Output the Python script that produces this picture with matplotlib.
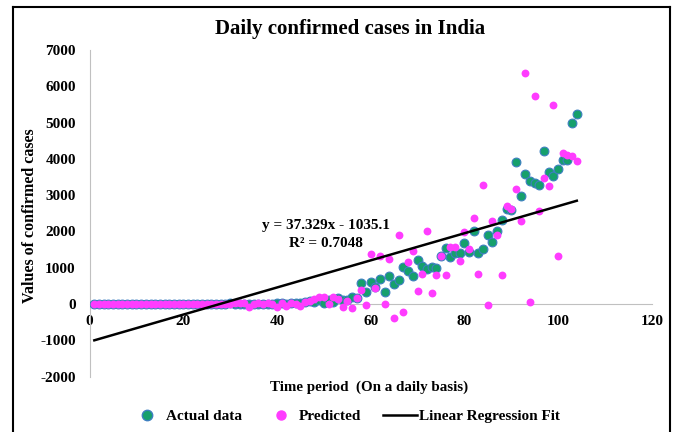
import matplotlib.pyplot as plt
from matplotlib.lines import Line2D
import numpy as np

plt.rcParams['font.family'] = ['Liberation Serif', 'DejaVu Serif']
plt.rcParams['font.weight'] = 'bold'
plt.rcParams['axes.unicode_minus'] = False

days = list(range(1, 105))

# daily confirmed cases
actual = [0] * 27 + [
    2, 1, 22, 2, 1, 3, 5, 9, 15, 8, 10, 14, 19, 26, 14, 28, 27, 22,
    63, 80, 69, 103, 37, 121, 70, 160, 100, 111, 190, 160,
    570, 320, 620, 480, 690, 340, 764, 543, 663, 1031, 921, 783, 1225, 1059,
    967, 1013, 995, 1326, 1547, 1308, 1400, 1418, 1676, 1428, 2008, 1400, 1529,
    1907, 1713, 2026, 2321, 2625, 2579, 3905, 2966, 3574, 3389, 3343, 3288,
    4218, 3629, 3537, 3730, 3960, 3960, 5001, 5250,
]

predicted = [0] * 29 + [
    10, 40, 20, 30, -70, 10, 20, 0, 30, 10, -70, 20, -40, 30, 10, -50,
    60, 90, 150, 200, 200, 10, 200, 130, -80, 80, -110, 180,
    387, -37, 1382, 440, 1326, 0, 1253, -396, 1897, -230, 1151, 1474, 350, 820,
    2026, 304, 810, 1326, 810, 1566, 1566, 1179, 1980, 1520, 2376, 829, 3288,
    -18, 2284, 1907, 810, 2690, 2625, 3178, 2284, 6374, 46, 5729, 2560, 3482,
    3242, 5471, 1326, 4163, 4117, 4089, 3942,
]

slope, intercept = 37.329, -1035.1

fig = plt.figure(figsize=(6.74, 4.32), dpi=100)
ax = fig.add_axes([0.133, 0.128, 0.834, 0.7563])

ax.scatter(days, actual, s=40, color='#16a06c', edgecolors='#3d7fc0', linewidths=0.8, zorder=3)
ax.scatter(days, predicted, s=32, color='#ff3cff', linewidths=0, zorder=4)

fx = np.array([1, 104])
ax.plot(fx, slope * fx + intercept, color='black', lw=1.8, zorder=5)

ax.text(50.5, 2160, 'y = 37.329x - 1035.1', ha='center', va='center', fontsize=11)
ax.text(50.5, 1660, 'R² = 0.7048', ha='center', va='center', fontsize=11)

ax.set_xlim(0, 120)
ax.set_ylim(-2000, 7000)
ax.set_xticks(range(0, 121, 20))
ax.set_yticks(range(-2000, 7001, 1000))
ax.tick_params(length=0, labelsize=11)
ax.tick_params(axis='x', pad=8)
ax.tick_params(axis='y', pad=10)

for side in ['top', 'right']:
    ax.spines[side].set_visible(False)
ax.spines['bottom'].set_position(('data', 0))
ax.spines['bottom'].set_color('#c0c0c0')
ax.spines['left'].set_color('#c0c0c0')

fig.text(0.520, 0.933, 'Daily confirmed cases in India', ha='center', va='center',
         fontsize=15, fontweight='bold')
fig.text(0.045, 0.50, 'Values of confirmed cases', rotation=90, ha='center', va='center',
         fontsize=11.5, fontweight='bold')
fig.text(0.548, 0.104, 'Time period  (On a daily basis)', ha='center', va='center',
         fontsize=10.8, fontweight='bold')

handles = [
    Line2D([], [], marker='o', ls='', markersize=7.5, markerfacecolor='#16a06c', markeredgecolor='#3d7fc0'),
    Line2D([], [], marker='o', ls='', markersize=6.5, markerfacecolor='#ff3cff', markeredgecolor='#ff3cff'),
    Line2D([], [], color='black', lw=1.8),
]
fig.legend(handles, ['Actual data', 'Predicted', 'Linear Regression Fit'], loc='center',
           bbox_to_anchor=(0.512, 0.037), ncol=3, frameon=False, fontsize=11,
           handlelength=2.2, handletextpad=0.1, columnspacing=1.45)

# chart border (bottom edge is cut off in the reference)
bx0, bx1, by = 13 / 674, 670 / 674, 1 - 7 / 432
fig.add_artist(Line2D([bx0, bx1], [by, by], color='black', lw=1.5, transform=fig.transFigure))
fig.add_artist(Line2D([bx0, bx0], [0, by], color='black', lw=1.5, transform=fig.transFigure))
fig.add_artist(Line2D([bx1, bx1], [0, by], color='black', lw=1.5, transform=fig.transFigure))

fig.savefig('out.png', dpi=100)
